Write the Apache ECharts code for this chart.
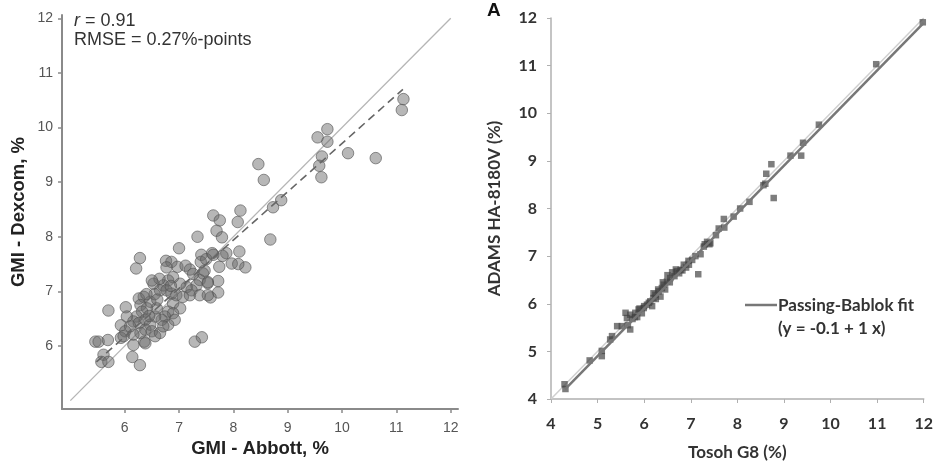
<!DOCTYPE html>
<html>
<head>
<meta charset="utf-8">
<script src="https://cdn.jsdelivr.net/npm/echarts@6/dist/echarts.min.js"></script>
<style>
  html, body { margin: 0; padding: 0; background: #fff; }
  #main { width: 936px; height: 466px; }
</style>
</head>
<body>
<div id="main"></div>
<script>
// left panel: GMI Abbott vs Dexcom
let gmiAbbott = [11.13, 11.10, 9.73, 9.55, 9.73, 10.11, 9.63, 10.62, 9.58, 9.62, 8.46, 8.56, 8.88, 8.73, 8.68,
  8.13, 8.08, 7.63, 7.75, 7.69, 7.79, 7.34, 8.11, 8.22, 7.97, 8.09, 7.87, 7.80, 7.61, 7.74, 7.72, 7.72, 7.58,
  7.41, 7.40, 7.44, 7.38, 7.53, 7.00, 6.76, 6.86, 6.97, 6.28, 6.21, 7.29, 7.42, 5.70, 6.02, 5.93, 5.93, 5.46,
  5.52, 5.69, 5.61, 5.57, 5.70, 6.14, 6.28, 6.16, 6.36, 6.77, 7.12, 7.20, 7.50, 7.63, 7.53, 7.47, 7.26, 7.32,
  7.23, 7.14, 7.02, 6.89, 6.80, 6.71, 6.64, 6.53, 6.50, 6.65, 6.77, 6.86, 6.95, 7.07, 7.20, 7.38, 7.53, 6.89,
  7.02, 6.80, 6.89, 6.74, 6.92, 6.80, 6.68, 6.56, 6.59, 6.47, 6.35, 6.26, 6.29, 6.41, 6.32, 6.22, 6.16, 6.26,
  6.38, 6.47, 6.38, 6.50, 6.29, 6.16, 6.04, 6.01, 5.98, 6.10, 6.56, 6.65, 6.71, 6.38, 6.45, 6.55, 6.60, 6.40,
  6.85];
let gmiDexcom = [10.52, 10.32, 9.97, 9.82, 9.74, 9.53, 9.47, 9.44, 9.30, 9.09, 9.33, 9.04, 8.67, 8.54, 7.95,
  8.48, 8.27, 8.39, 8.30, 8.11, 7.99, 8.00, 7.73, 7.44, 7.51, 7.50, 7.70, 7.65, 7.70, 7.45, 7.19, 6.98, 6.89,
  7.67, 7.54, 7.33, 7.21, 7.15, 7.79, 7.56, 7.54, 7.45, 7.61, 7.42, 6.08, 6.16, 6.65, 6.71, 6.38, 6.15, 6.08,
  6.08, 6.11, 5.84, 5.71, 5.71, 5.80, 5.65, 6.02, 6.08, 7.44, 7.47, 7.40, 7.59, 7.67, 7.17, 7.38, 7.32, 7.11,
  7.02, 7.08, 7.14, 7.26, 7.20, 7.11, 7.23, 7.14, 7.20, 7.02, 7.02, 6.96, 6.93, 6.90, 6.93, 6.93, 6.93, 6.78,
  6.69, 6.63, 6.60, 6.54, 6.48, 6.39, 6.48, 6.54, 6.69, 6.81, 6.90, 6.87, 6.75, 6.69, 6.63, 6.54, 6.45, 6.42,
  6.48, 6.39, 6.30, 6.27, 6.24, 6.21, 6.54, 6.27, 6.18, 6.36, 6.18, 6.24, 6.36, 6.05, 6.55, 6.95, 6.85, 6.95,
  7.10];
let leftTicks = [6, 7, 8, 9, 10, 11, 12];
let identityLeft = [[5, 5], [12, 12]];
let regressionLeft = [[5.48, 5.71], [11.12, 10.70]];

// right panel: Tosoh G8 vs ADAMS HA-8180V
let tosohG8 = [11.98, 10.98, 9.75, 9.41, 9.37, 9.14, 8.73, 8.62, 8.60, 8.56, 8.78, 8.26, 8.06, 7.92, 7.71,
  7.72, 7.60, 7.54, 7.42, 7.35, 7.28, 7.21, 7.16, 7.03, 6.96, 6.85, 6.78, 6.70, 6.60, 6.56, 6.49, 6.42, 6.38,
  6.31, 6.24, 6.20, 6.13, 6.17, 6.06, 5.99, 5.88, 5.81, 5.70, 5.63, 5.60, 5.70, 5.52, 5.42, 5.31, 5.27, 5.09,
  5.09, 4.83, 4.29, 4.31, 7.40, 7.30, 6.90, 6.75, 6.65, 6.45, 6.35, 6.25, 6.10, 5.95, 5.85, 5.75, 5.65, 6.50,
  6.68, 6.82, 6.40, 6.20, 6.00, 5.80, 5.90, 6.30, 6.55, 7.10, 6.95];
let adams = [11.91, 11.03, 9.76, 9.38, 9.11, 9.11, 8.93, 8.73, 8.52, 8.49, 8.22, 8.14, 8.00, 7.83, 7.78,
  7.60, 7.58, 7.44, 7.27, 7.30, 7.20, 7.04, 6.62, 6.92, 6.82, 6.82, 6.71, 6.68, 6.66, 6.54, 6.47, 6.40, 6.33,
  6.26, 6.19, 6.12, 6.05, 5.95, 5.98, 5.91, 5.88, 5.81, 5.77, 5.70, 5.81, 5.46, 5.53, 5.53, 5.32, 5.25, 5.01,
  4.90, 4.81, 4.31, 4.21, 7.25, 7.25, 6.76, 6.64, 6.58, 6.30, 6.15, 6.10, 6.02, 5.80, 5.72, 5.68, 5.55, 6.60,
  6.72, 6.70, 6.45, 6.22, 5.95, 5.72, 5.90, 6.30, 6.45, 7.00, 6.90];
let identityRight = [[4, 4], [12, 12]];
let passingBablok = [[4.3, 4.2], [12, 11.9]];

let leftPts = gmiAbbott.map((x, i) => [x, gmiDexcom[i]]);
let rightPts = tosohG8.map((x, i) => [x, adams[i]]);

let arial = '"Liberation Sans", Arial, sans-serif';
let calibri = 'Lato, "Open Sans", sans-serif';

function leftAxis(min, max, name, gap, rot, margin) {
    return {
        type: 'value', min: min, max: max,
        name: name, nameLocation: 'middle', nameGap: gap, nameRotate: rot,
        nameTextStyle: { fontFamily: arial, fontWeight: 'bold', fontSize: 18.5, color: '#222' },
        axisLine: { show: true, lineStyle: { color: '#8a8a8a', width: 2 } },
        axisTick: { show: true, inside: false, length: 4, customValues: leftTicks, lineStyle: { color: '#8a8a8a', width: 1.5 } },
        axisLabel: { customValues: leftTicks, fontFamily: arial, fontSize: 14, color: '#555', margin: margin },
        splitLine: { show: false }
    };
}

function rightAxis(name, gap, rot, margin) {
    return {
        type: 'value', min: 4, max: 12, interval: 1, gridIndex: 1,
        name: name, nameLocation: 'middle', nameGap: gap, nameRotate: rot,
        nameTextStyle: { fontFamily: calibri, fontWeight: 'bold', fontSize: 17, color: '#333' },
        axisLine: { show: true, lineStyle: { color: '#b0b0b0', width: 1.5 } },
        axisTick: { show: true, inside: false, length: 4, lineStyle: { color: '#b0b0b0' } },
        axisLabel: { fontFamily: calibri, fontWeight: 'bold', fontSize: 16, color: '#333', margin: margin },
        splitLine: { show: false }
    };
}

let chart = echarts.init(document.getElementById('main'));
let xLeft = leftAxis(4.846, 12.134, 'GMI - Abbott, %', 27, 0, 12);
let yLeft = leftAxis(4.847, 12.06, 'GMI - Dexcom, %', 34, 90, 9);
let xRight = rightAxis('Tosoh G8 (%)', 45, 0, 17);
let yRight = rightAxis('ADAMS HA-8180V (%)', 48, 90, 14);

chart.setOption({
    animation: false,
    grid: [
        { left: 62, top: 15, width: 396, height: 394 },
        { left: 551, top: 18, width: 373, height: 384 }
    ],
    xAxis: [xLeft, xRight],
    yAxis: [yLeft, yRight],
    graphic: [
        {
            type: 'text', left: 74, top: 12,
            style: {
                text: '{i|r} = 0.91\nRMSE = 0.27%-points',
                font: '18px ' + arial, fill: '#333', lineHeight: 18.5,
                rich: { i: { fontStyle: 'italic', fontSize: 18, fontFamily: arial, fill: '#333' } }
            }
        },
        {
            type: 'text', left: 487, top: 1,
            style: { text: 'A', font: 'bold 19px ' + arial, fill: '#111' }
        },
        {
            type: 'line', shape: { x1: 745, y1: 305, x2: 777, y2: 305 },
            style: { stroke: '#777', lineWidth: 2.5 }
        },
        {
            type: 'text', left: 778, top: 294,
            style: { text: 'Passing-Bablok fit\n(y = -0.1 + 1 x)', font: 'bold 17px ' + calibri, fill: '#333', lineHeight: 23 }
        }
    ],
    series: [
        {
            type: 'line', xAxisIndex: 0, yAxisIndex: 0, data: identityLeft, symbol: 'none',
            lineStyle: { color: '#b5b5b5', width: 1.3 }, z: 1
        },
        {
            type: 'scatter', xAxisIndex: 0, yAxisIndex: 0, data: leftPts, symbol: 'circle', symbolSize: 11.5,
            itemStyle: { color: 'rgba(105,105,105,0.6)', borderColor: 'rgba(85,85,85,0.8)', borderWidth: 1 }, z: 2
        },
        {
            type: 'line', xAxisIndex: 0, yAxisIndex: 0, data: regressionLeft, symbol: 'none',
            lineStyle: { color: '#666', width: 1.6, type: [8, 5] }, z: 3
        },
        {
            type: 'line', xAxisIndex: 1, yAxisIndex: 1, data: identityRight, symbol: 'none',
            lineStyle: { color: '#cfcfcf', width: 1.5 }, z: 1
        },
        {
            type: 'scatter', xAxisIndex: 1, yAxisIndex: 1, data: rightPts, symbol: 'rect', symbolSize: 6.5,
            itemStyle: { color: 'rgba(65,65,65,0.85)' }, z: 2
        },
        {
            type: 'line', xAxisIndex: 1, yAxisIndex: 1, data: passingBablok, symbol: 'none',
            lineStyle: { color: '#777', width: 2.5 }, z: 3
        }
    ]
});
</script>
</body>
</html>
